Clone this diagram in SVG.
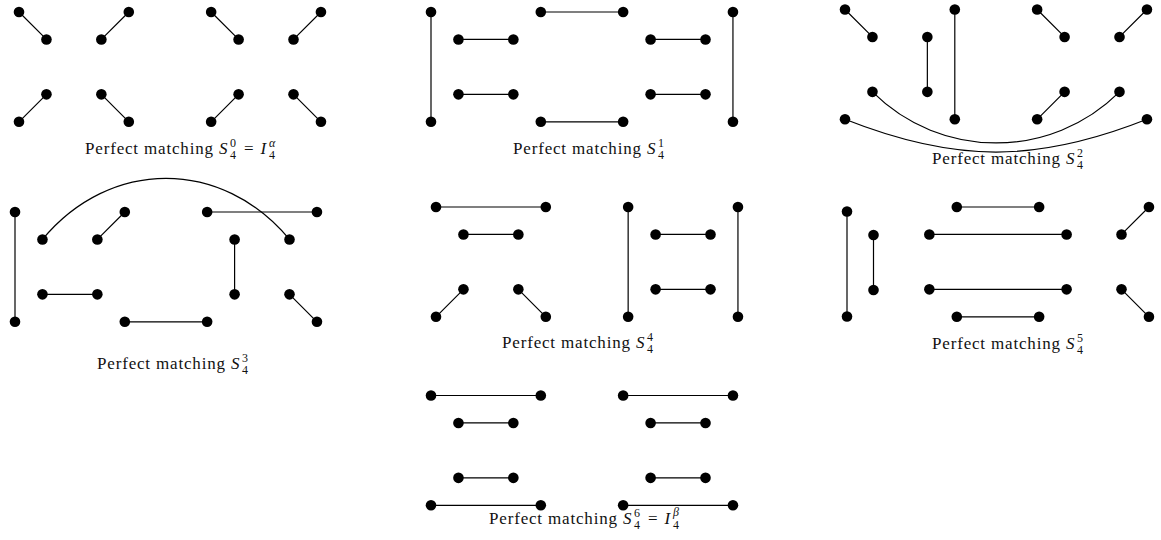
<svg xmlns="http://www.w3.org/2000/svg" width="1161" height="540" viewBox="0 0 1161 540">
  <style>
    .e { stroke:#000; stroke-width:1.2; fill:none; stroke-linecap:round; }
    .n circle { fill:#000; }
    .t { font-family:"Liberation Serif","DejaVu Serif",serif; font-size:17px; fill:#111; }
    .i { font-style:italic; }
    .s { font-size:12px; }
  </style>
  <rect width="1161" height="540" fill="#fff"/>

  <!-- ===== S4^0 = I4^alpha ===== -->
  <g id="s0">
    <g id="s0-edges" class="e">
      <line x1="19" y1="12" x2="46.45" y2="39.45"/>
      <line x1="101.35" y1="39.45" x2="128.8" y2="12"/>
      <line x1="211.15" y1="12" x2="238.6" y2="39.45"/>
      <line x1="293.5" y1="39.45" x2="320.95" y2="12"/>
      <line x1="19" y1="121.8" x2="46.45" y2="94.35"/>
      <line x1="101.35" y1="94.35" x2="128.8" y2="121.8"/>
      <line x1="211.15" y1="121.8" x2="238.6" y2="94.35"/>
      <line x1="293.5" y1="94.35" x2="320.95" y2="121.8"/>
    </g>
    <g id="s0-nodes" class="n">
      <circle id="s0-v1" cx="19" cy="12" r="5.3"/><circle id="s0-v2" cx="46.45" cy="39.45" r="5.3"/>
      <circle id="s0-v3" cx="101.35" cy="39.45" r="5.3"/><circle id="s0-v4" cx="128.8" cy="12" r="5.3"/>
      <circle id="s0-v5" cx="211.15" cy="12" r="5.3"/><circle id="s0-v6" cx="238.6" cy="39.45" r="5.3"/>
      <circle id="s0-v7" cx="293.5" cy="39.45" r="5.3"/><circle id="s0-v8" cx="320.95" cy="12" r="5.3"/>
      <circle id="s0-v9" cx="19" cy="121.8" r="5.3"/><circle id="s0-v10" cx="46.45" cy="94.35" r="5.3"/>
      <circle id="s0-v11" cx="101.35" cy="94.35" r="5.3"/><circle id="s0-v12" cx="128.8" cy="121.8" r="5.3"/>
      <circle id="s0-v13" cx="211.15" cy="121.8" r="5.3"/><circle id="s0-v14" cx="238.6" cy="94.35" r="5.3"/>
      <circle id="s0-v15" cx="293.5" cy="94.35" r="5.3"/><circle id="s0-v16" cx="320.95" cy="121.8" r="5.3"/>
    </g>
    <g id="s0-label" class="t">
      <text x="85" y="154" textLength="128" lengthAdjust="spacing">Perfect matching</text>
      <text y="154"><tspan x="219" class="i">S</tspan><tspan x="230" y="147" class="s">0</tspan><tspan x="230" y="158.5" class="s">4</tspan><tspan x="244" y="154">=</tspan><tspan x="260.5" class="i">I</tspan><tspan x="269" y="147" class="s i">α</tspan><tspan x="269" y="158.5" class="s">4</tspan></text>
    </g>
  </g>

  <!-- ===== S4^1 ===== -->
  <g id="s1">
    <g id="s1-edges" class="e">
      <line x1="431" y1="12" x2="431" y2="121.8"/>
      <line x1="458.45" y1="39.45" x2="513.35" y2="39.45"/>
      <line x1="458.45" y1="94.35" x2="513.35" y2="94.35"/>
      <line x1="540.8" y1="12" x2="623.15" y2="12"/>
      <line x1="540.8" y1="121.8" x2="623.15" y2="121.8"/>
      <line x1="650.6" y1="39.45" x2="705.5" y2="39.45"/>
      <line x1="650.6" y1="94.35" x2="705.5" y2="94.35"/>
      <line x1="732.95" y1="12" x2="732.95" y2="121.8"/>
    </g>
    <g id="s1-nodes" class="n">
      <circle id="s1-v1" cx="431" cy="12" r="5.3"/><circle id="s1-v2" cx="431" cy="121.8" r="5.3"/>
      <circle id="s1-v3" cx="458.45" cy="39.45" r="5.3"/><circle id="s1-v4" cx="513.35" cy="39.45" r="5.3"/>
      <circle id="s1-v5" cx="458.45" cy="94.35" r="5.3"/><circle id="s1-v6" cx="513.35" cy="94.35" r="5.3"/>
      <circle id="s1-v7" cx="540.8" cy="12" r="5.3"/><circle id="s1-v8" cx="623.15" cy="12" r="5.3"/>
      <circle id="s1-v9" cx="540.8" cy="121.8" r="5.3"/><circle id="s1-v10" cx="623.15" cy="121.8" r="5.3"/>
      <circle id="s1-v11" cx="650.6" cy="39.45" r="5.3"/><circle id="s1-v12" cx="705.5" cy="39.45" r="5.3"/>
      <circle id="s1-v13" cx="650.6" cy="94.35" r="5.3"/><circle id="s1-v14" cx="705.5" cy="94.35" r="5.3"/>
      <circle id="s1-v15" cx="732.95" cy="12" r="5.3"/><circle id="s1-v16" cx="732.95" cy="121.8" r="5.3"/>
    </g>
    <g id="s1-label" class="t">
      <text x="513" y="154" textLength="128" lengthAdjust="spacing">Perfect matching</text>
      <text y="154"><tspan x="647" class="i">S</tspan><tspan x="658" y="147" class="s">1</tspan><tspan x="658" y="158.5" class="s">4</tspan></text>
    </g>
  </g>

  <!-- ===== S4^2 ===== -->
  <g id="s2">
    <g id="s2-edges" class="e">
      <line x1="845" y1="9.5" x2="872.45" y2="36.95"/>
      <line x1="927.35" y1="36.95" x2="927.35" y2="91.85"/>
      <line x1="954.8" y1="9.5" x2="954.8" y2="119.3"/>
      <line x1="1037.15" y1="9.5" x2="1064.6" y2="36.95"/>
      <line x1="1119.5" y1="36.95" x2="1146.95" y2="9.5"/>
      <line x1="1037.15" y1="119.3" x2="1064.6" y2="91.85"/>
      <path d="M872.45 91.85 C941 160 1051 160 1119.5 91.85"/>
      <path d="M845 119.3 C955 163 1037 163 1146.95 119.3"/>
    </g>
    <g id="s2-nodes" class="n">
      <circle id="s2-v1" cx="845" cy="9.5" r="5.3"/><circle id="s2-v2" cx="872.45" cy="36.95" r="5.3"/>
      <circle id="s2-v3" cx="927.35" cy="36.95" r="5.3"/><circle id="s2-v4" cx="927.35" cy="91.85" r="5.3"/>
      <circle id="s2-v5" cx="954.8" cy="9.5" r="5.3"/><circle id="s2-v6" cx="954.8" cy="119.3" r="5.3"/>
      <circle id="s2-v7" cx="1037.15" cy="9.5" r="5.3"/><circle id="s2-v8" cx="1064.6" cy="36.95" r="5.3"/>
      <circle id="s2-v9" cx="1119.5" cy="36.95" r="5.3"/><circle id="s2-v10" cx="1146.95" cy="9.5" r="5.3"/>
      <circle id="s2-v11" cx="1037.15" cy="119.3" r="5.3"/><circle id="s2-v12" cx="1064.6" cy="91.85" r="5.3"/>
      <circle id="s2-v13" cx="872.45" cy="91.85" r="5.3"/><circle id="s2-v14" cx="1119.5" cy="91.85" r="5.3"/>
      <circle id="s2-v15" cx="845" cy="119.3" r="5.3"/><circle id="s2-v16" cx="1146.95" cy="119.3" r="5.3"/>
    </g>
    <g id="s2-label" class="t">
      <text x="932" y="164" textLength="128" lengthAdjust="spacing">Perfect matching</text>
      <text y="164"><tspan x="1066" class="i">S</tspan><tspan x="1077" y="157" class="s">2</tspan><tspan x="1077" y="168.5" class="s">4</tspan></text>
    </g>
  </g>

  <!-- ===== S4^3 ===== -->
  <g id="s3">
    <g id="s3-edges" class="e">
      <line x1="15" y1="212" x2="15" y2="321.8"/>
      <path d="M42.45 239.45 C110 158 222 158 289.5 239.45"/>
      <line x1="97.35" y1="239.45" x2="124.8" y2="212"/>
      <line x1="42.45" y1="294.35" x2="97.35" y2="294.35"/>
      <line x1="124.8" y1="321.8" x2="207.15" y2="321.8"/>
      <line x1="207.15" y1="212" x2="316.95" y2="212"/>
      <line x1="234.6" y1="239.45" x2="234.6" y2="294.35"/>
      <line x1="289.5" y1="294.35" x2="316.95" y2="321.8"/>
    </g>
    <g id="s3-nodes" class="n">
      <circle id="s3-v1" cx="15" cy="212" r="5.3"/><circle id="s3-v2" cx="15" cy="321.8" r="5.3"/>
      <circle id="s3-v3" cx="42.45" cy="239.45" r="5.3"/><circle id="s3-v4" cx="289.5" cy="239.45" r="5.3"/>
      <circle id="s3-v5" cx="97.35" cy="239.45" r="5.3"/><circle id="s3-v6" cx="124.8" cy="212" r="5.3"/>
      <circle id="s3-v7" cx="42.45" cy="294.35" r="5.3"/><circle id="s3-v8" cx="97.35" cy="294.35" r="5.3"/>
      <circle id="s3-v9" cx="124.8" cy="321.8" r="5.3"/><circle id="s3-v10" cx="207.15" cy="321.8" r="5.3"/>
      <circle id="s3-v11" cx="207.15" cy="212" r="5.3"/><circle id="s3-v12" cx="316.95" cy="212" r="5.3"/>
      <circle id="s3-v13" cx="234.6" cy="239.45" r="5.3"/><circle id="s3-v14" cx="234.6" cy="294.35" r="5.3"/>
      <circle id="s3-v15" cx="289.5" cy="294.35" r="5.3"/><circle id="s3-v16" cx="316.95" cy="321.8" r="5.3"/>
    </g>
    <g id="s3-label" class="t">
      <text x="97" y="369" textLength="128" lengthAdjust="spacing">Perfect matching</text>
      <text y="369"><tspan x="231" class="i">S</tspan><tspan x="242" y="362" class="s">3</tspan><tspan x="242" y="373.5" class="s">4</tspan></text>
    </g>
  </g>

  <!-- ===== S4^4 ===== -->
  <g id="s4">
    <g id="s4-edges" class="e">
      <line x1="436" y1="207" x2="545.8" y2="207"/>
      <line x1="463.45" y1="234.45" x2="518.35" y2="234.45"/>
      <line x1="436" y1="316.8" x2="463.45" y2="289.35"/>
      <line x1="518.35" y1="289.35" x2="545.8" y2="316.8"/>
      <line x1="628.15" y1="207" x2="628.15" y2="316.8"/>
      <line x1="655.6" y1="234.45" x2="710.5" y2="234.45"/>
      <line x1="655.6" y1="289.35" x2="710.5" y2="289.35"/>
      <line x1="737.95" y1="207" x2="737.95" y2="316.8"/>
    </g>
    <g id="s4-nodes" class="n">
      <circle id="s4-v1" cx="436" cy="207" r="5.3"/><circle id="s4-v2" cx="545.8" cy="207" r="5.3"/>
      <circle id="s4-v3" cx="463.45" cy="234.45" r="5.3"/><circle id="s4-v4" cx="518.35" cy="234.45" r="5.3"/>
      <circle id="s4-v5" cx="436" cy="316.8" r="5.3"/><circle id="s4-v6" cx="463.45" cy="289.35" r="5.3"/>
      <circle id="s4-v7" cx="518.35" cy="289.35" r="5.3"/><circle id="s4-v8" cx="545.8" cy="316.8" r="5.3"/>
      <circle id="s4-v9" cx="628.15" cy="207" r="5.3"/><circle id="s4-v10" cx="628.15" cy="316.8" r="5.3"/>
      <circle id="s4-v11" cx="655.6" cy="234.45" r="5.3"/><circle id="s4-v12" cx="710.5" cy="234.45" r="5.3"/>
      <circle id="s4-v13" cx="655.6" cy="289.35" r="5.3"/><circle id="s4-v14" cx="710.5" cy="289.35" r="5.3"/>
      <circle id="s4-v15" cx="737.95" cy="207" r="5.3"/><circle id="s4-v16" cx="737.95" cy="316.8" r="5.3"/>
    </g>
    <g id="s4-label" class="t">
      <text x="502" y="348" textLength="128" lengthAdjust="spacing">Perfect matching</text>
      <text y="348"><tspan x="636" class="i">S</tspan><tspan x="647" y="341" class="s">4</tspan><tspan x="647" y="352.5" class="s">4</tspan></text>
    </g>
  </g>

  <!-- ===== S4^5 ===== -->
  <g id="s5">
    <g id="s5-edges" class="e">
      <line x1="847" y1="211.5" x2="847" y2="316.5"/>
      <line x1="873.5" y1="235" x2="873.5" y2="290"/>
      <line x1="956.8" y1="207" x2="1039.15" y2="207"/>
      <line x1="929.35" y1="234.45" x2="1066.6" y2="234.45"/>
      <line x1="929.35" y1="289.35" x2="1066.6" y2="289.35"/>
      <line x1="956.8" y1="316.8" x2="1039.15" y2="316.8"/>
      <line x1="1121.5" y1="234.45" x2="1148.95" y2="207"/>
      <line x1="1121.5" y1="289.35" x2="1148.95" y2="316.8"/>
    </g>
    <g id="s5-nodes" class="n">
      <circle id="s5-v1" cx="847" cy="211.5" r="5.3"/><circle id="s5-v2" cx="847" cy="316.5" r="5.3"/>
      <circle id="s5-v3" cx="873.5" cy="235" r="5.3"/><circle id="s5-v4" cx="873.5" cy="290" r="5.3"/>
      <circle id="s5-v5" cx="956.8" cy="207" r="5.3"/><circle id="s5-v6" cx="1039.15" cy="207" r="5.3"/>
      <circle id="s5-v7" cx="929.35" cy="234.45" r="5.3"/><circle id="s5-v8" cx="1066.6" cy="234.45" r="5.3"/>
      <circle id="s5-v9" cx="929.35" cy="289.35" r="5.3"/><circle id="s5-v10" cx="1066.6" cy="289.35" r="5.3"/>
      <circle id="s5-v11" cx="956.8" cy="316.8" r="5.3"/><circle id="s5-v12" cx="1039.15" cy="316.8" r="5.3"/>
      <circle id="s5-v13" cx="1121.5" cy="234.45" r="5.3"/><circle id="s5-v14" cx="1148.95" cy="207" r="5.3"/>
      <circle id="s5-v15" cx="1121.5" cy="289.35" r="5.3"/><circle id="s5-v16" cx="1148.95" cy="316.8" r="5.3"/>
    </g>
    <g id="s5-label" class="t">
      <text x="932" y="349" textLength="128" lengthAdjust="spacing">Perfect matching</text>
      <text y="349"><tspan x="1066" class="i">S</tspan><tspan x="1077" y="342" class="s">5</tspan><tspan x="1077" y="353.5" class="s">4</tspan></text>
    </g>
  </g>

  <!-- ===== S4^6 = I4^beta ===== -->
  <g id="s6">
    <g id="s6-edges" class="e">
      <line x1="431" y1="395.5" x2="540.8" y2="395.5"/>
      <line x1="458.45" y1="422.95" x2="513.35" y2="422.95"/>
      <line x1="458.45" y1="477.85" x2="513.35" y2="477.85"/>
      <line x1="431" y1="505.3" x2="540.8" y2="505.3"/>
      <line x1="623.15" y1="395.5" x2="732.95" y2="395.5"/>
      <line x1="650.6" y1="422.95" x2="705.5" y2="422.95"/>
      <line x1="650.6" y1="477.85" x2="705.5" y2="477.85"/>
      <line x1="623.15" y1="505.3" x2="732.95" y2="505.3"/>
    </g>
    <g id="s6-nodes" class="n">
      <circle id="s6-v1" cx="431" cy="395.5" r="5.3"/><circle id="s6-v2" cx="540.8" cy="395.5" r="5.3"/>
      <circle id="s6-v3" cx="458.45" cy="422.95" r="5.3"/><circle id="s6-v4" cx="513.35" cy="422.95" r="5.3"/>
      <circle id="s6-v5" cx="458.45" cy="477.85" r="5.3"/><circle id="s6-v6" cx="513.35" cy="477.85" r="5.3"/>
      <circle id="s6-v7" cx="431" cy="505.3" r="5.3"/><circle id="s6-v8" cx="540.8" cy="505.3" r="5.3"/>
      <circle id="s6-v9" cx="623.15" cy="395.5" r="5.3"/><circle id="s6-v10" cx="732.95" cy="395.5" r="5.3"/>
      <circle id="s6-v11" cx="650.6" cy="422.95" r="5.3"/><circle id="s6-v12" cx="705.5" cy="422.95" r="5.3"/>
      <circle id="s6-v13" cx="650.6" cy="477.85" r="5.3"/><circle id="s6-v14" cx="705.5" cy="477.85" r="5.3"/>
      <circle id="s6-v15" cx="623.15" cy="505.3" r="5.3"/><circle id="s6-v16" cx="732.95" cy="505.3" r="5.3"/>
    </g>
    <g id="s6-label" class="t">
      <text x="489" y="524" textLength="128" lengthAdjust="spacing">Perfect matching</text>
      <text y="524"><tspan x="623" class="i">S</tspan><tspan x="634" y="517" class="s">6</tspan><tspan x="634" y="528.5" class="s">4</tspan><tspan x="648" y="524">=</tspan><tspan x="664.5" class="i">I</tspan><tspan x="673" y="516" class="s i">β</tspan><tspan x="673" y="528.5" class="s">4</tspan></text>
    </g>
  </g>
</svg>
